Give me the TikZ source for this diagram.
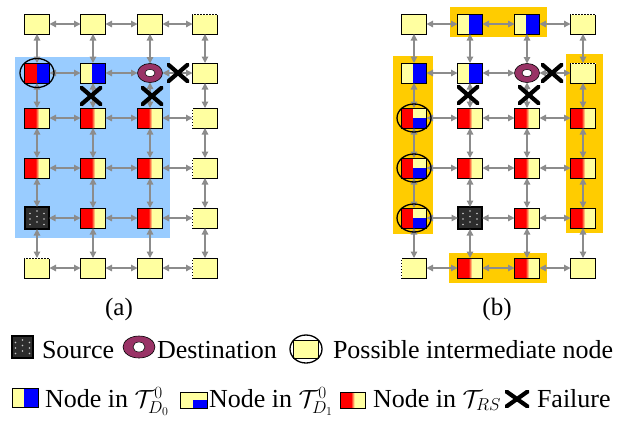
\documentclass[tikz,border=0pt]{standalone}
\usepackage{fontspec}
\setmainfont{Liberation Serif}
\usetikzlibrary{arrows.meta,shapes.geometric,calc}
\definecolor{ylw}{RGB}{255,255,160}
\definecolor{arrgray}{RGB}{140,140,140}
\definecolor{bgblue}{RGB}{153,204,255}
\definecolor{bgorange}{RGB}{255,204,0}
\definecolor{ringcol}{RGB}{153,51,102}
\definecolor{srccol}{RGB}{45,45,45}
\definecolor{dotcol}{RGB}{200,200,200}
\tikzset{
  box/.style={rectangle, draw=black, line width=0.9bp, minimum width=25bp, minimum height=20bp, inner sep=0pt, outer sep=0pt, fill=ylw},
  ry/.style={box, path picture={
    \coordinate (pA) at ($(path picture bounding box.south west)!0.44!(path picture bounding box.south east)$);
    \coordinate (pB) at ($(path picture bounding box.north west)!0.58!(path picture bounding box.north east)$);
    \fill[red] (path picture bounding box.north west) rectangle (pA);
    \shade[left color=red, right color=ylw] (pA) rectangle (pB);}},
  yb/.style={box, path picture={
    \coordinate (pA) at ($(path picture bounding box.south west)!0.46!(path picture bounding box.south east)$);
    \fill[blue] (pA) rectangle (path picture bounding box.north east);}},
  rb/.style={box, path picture={
    \coordinate (pA) at ($(path picture bounding box.south west)!0.5!(path picture bounding box.south east)$);
    \fill[red] (path picture bounding box.north west) rectangle (pA);
    \fill[blue] (pA) rectangle (path picture bounding box.north east);}},
  quart/.style={box, path picture={
    \coordinate (pA) at ($(path picture bounding box.south west)!0.46!(path picture bounding box.south east)$);
    \coordinate (pB) at ($(path picture bounding box.south east)!0.5!(path picture bounding box.north east)$);
    \fill[blue] (pA) rectangle (pB);}},
  rq/.style={box, path picture={
    \coordinate (pA) at ($(path picture bounding box.south west)!0.46!(path picture bounding box.south east)$);
    \coordinate (pB) at ($(path picture bounding box.south east)!0.5!(path picture bounding box.north east)$);
    \fill[red] (path picture bounding box.north west) rectangle (pA);
    \fill[blue] (pA) rectangle (pB);}},
  dest/.style={ellipse, draw=black, line width=0.6bp, fill=ringcol, minimum width=25bp, minimum height=19bp, inner sep=0pt, outer sep=0pt,
    path picture={\filldraw[fill=white, draw=black, line width=0.5bp] (path picture bounding box.center) ellipse [x radius=5bp, y radius=3.7bp];}},
  ldest/.style={dest, minimum width=32bp, minimum height=22bp,
    path picture={\filldraw[fill=white, draw=black, line width=0.5bp] (path picture bounding box.center) ellipse [x radius=6bp, y radius=5bp];}},
  src/.style={rectangle, draw=black, line width=1.3bp, fill=srccol, minimum width=24bp, minimum height=22bp, inner sep=0pt, outer sep=0pt,
    path picture={
      \foreach \i/\j in {-7/-6.5,0/-4,7/-6.5,-7/-1,7/-1,0/1.5,-7/4.5,7/4.5,0/7}{
        \fill[dotcol] ([shift={(\i bp,\j bp)}]path picture bounding box.center) circle (0.9bp);}}},
  fail/.style={rectangle, inner sep=0pt, minimum width=22bp, minimum height=19bp,
    path picture={
      \draw[line width=4.2bp] (path picture bounding box.south west) -- (path picture bounding box.north east);
      \draw[line width=4.2bp] (path picture bounding box.north west) -- (path picture bounding box.south east);}},
  conn/.style={draw=arrgray, line width=1.3bp, {Triangle[length=6.5bp,width=6.5bp]}-{Triangle[length=6.5bp,width=6.5bp]}},
  circmark/.style={draw=black, line width=1.3bp},
  dashedge/.style={draw=white, line width=1bp, dash pattern=on 1.5bp off 1.5bp},
  lbl/.style={inner sep=0pt, outer sep=0pt, font=\fontsize{26bp}{30bp}\selectfont},
}
\begin{document}
\begin{tikzpicture}[x=1bp,y=-1bp]
\useasboundingbox (0,0) rectangle (623,425);
% backgrounds
\fill[bgblue] (15,57) rectangle (170,238);
\fill[bgorange] (450,7) rectangle (547,37);
\fill[bgorange] (393,56) rectangle (433,234);
\fill[bgorange] (566,54) rectangle (603,233);
\fill[bgorange] (449,253) rectangle (547,283);
% ---------- panel (a) ----------
\node[box] (a11) at (37,24) {};
\node[box] (a12) at (93,24) {};
\node[box] (a13) at (150,24) {};
\node[box] (a14) at (205,24) {};
\node[rb]  (a21) at (37,73) {};
\node[yb]  (a22) at (93,73) {};
\node[dest] (a23) at (150,73) {};
\node[box] (a24) at (205,73) {};
\node[ry]  (a31) at (37,118) {};
\node[ry]  (a32) at (93,118) {};
\node[ry]  (a33) at (150,118) {};
\node[box] (a34) at (205,118) {};
\node[ry]  (a41) at (37,168) {};
\node[ry]  (a42) at (93,168) {};
\node[ry]  (a43) at (150,168) {};
\node[box] (a44) at (205,168) {};
\node[src] (a51) at (37,218) {};
\node[ry]  (a52) at (93,218) {};
\node[ry]  (a53) at (150,218) {};
\node[box] (a54) at (205,218) {};
\node[box] (a61) at (37,268) {};
\node[box] (a62) at (93,268) {};
\node[box] (a63) at (150,268) {};
\node[box] (a64) at (205,268) {};
% ---------- panel (b) ----------
\node[box] (b11) at (414,24) {};
\node[yb]  (b12) at (470,24) {};
\node[yb]  (b13) at (527,24) {};
\node[box] (b14) at (583,24) {};
\node[yb]  (b21) at (414,73) {};
\node[yb]  (b22) at (470,73) {};
\node[dest] (b23) at (527,73) {};
\node[box] (b24) at (583,73) {};
\node[rq]  (b31) at (414,118) {};
\node[ry]  (b32) at (470,118) {};
\node[ry]  (b33) at (527,118) {};
\node[ry]  (b34) at (583,118) {};
\node[rq]  (b41) at (414,168) {};
\node[ry]  (b42) at (470,168) {};
\node[ry]  (b43) at (527,168) {};
\node[ry]  (b44) at (583,168) {};
\node[rq]  (b51) at (414,218) {};
\node[src] (b52) at (470,218) {};
\node[ry]  (b53) at (527,218) {};
\node[ry]  (b54) at (583,218) {};
\node[box] (b61) at (414,268) {};
\node[ry]  (b62) at (470,268) {};
\node[ry]  (b63) at (527,268) {};
\node[box] (b64) at (583,268) {};
% dashed edges
\draw[dashedge] (a14.north west) -- (a14.north east);
\draw[dashedge] (a34.north west) -- (a34.south west);
\draw[dashedge] (a44.north west) -- (a44.south west);
\draw[dashedge] (a54.north west) -- (a54.south west);
\draw[dashedge] (a64.north west) -- (a64.south west);
\draw[dashedge] (a61.north west) -- (a61.north east);
\draw[dashedge] (b14.north west) -- (b14.north east);
\draw[dashedge] (b24.north west) -- (b24.north east);
\draw[dashedge] (b61.north west) -- (b61.south west);
% connectors
\foreach \p in {a,b}{
  \foreach \r in {1,...,6}{
    \foreach \c [evaluate=\c as \d using int(\c+1)] in {1,2,3}{
      \draw[conn] (\p\r\c) -- (\p\r\d);
    }
  }
  \foreach \r [evaluate=\r as \s using int(\r+1)] in {1,...,5}{
    \foreach \c in {1,...,4}{
      \draw[conn] (\p\r\c) -- (\p\s\c);
    }
  }
}
% circles
\draw[circmark] (a21) ellipse [x radius=17bp, y radius=14.5bp];
\draw[circmark] (b31) ellipse [x radius=17bp, y radius=14bp];
\draw[circmark] (b41) ellipse [x radius=17bp, y radius=14bp];
\draw[circmark] (b51) ellipse [x radius=17bp, y radius=14bp];
% failures
\node[fail] (fa1) at (178,73) {};
\node[fail] (fa2) at (91,96) {};
\node[fail] (fa3) at (152,96) {};
\node[fail] (fb1) at (552,73) {};
\node[fail] (fb2) at (468,95) {};
\node[fail] (fb3) at (529,95) {};
% sub-captions
\node[lbl, anchor=base, font=\fontsize{25bp}{30bp}\selectfont] (capa) at (119,315) {(a)};
\node[lbl, anchor=base, font=\fontsize{25bp}{30bp}\selectfont] (capb) at (497,315) {(b)};
% ---------- legend row 1 ----------
\node[src, minimum width=21bp, minimum height=22bp] (lsrc) at (22.5,347) {};
\node[lbl, anchor=base west] (tsrc) at (42,358) {Source};
\node[ldest] (ldst) at (139,347) {};
\node[lbl, anchor=base west] (tdst) at (157,358) {Destination};
\node[box, minimum width=25bp, minimum height=18bp] (lpos) at (306,349) {};
\draw[circmark] (lpos) ellipse [x radius=16bp, y radius=14bp];
\node[lbl, anchor=base west] (tpos) at (333,358) {Possible intermediate node};
% ---------- legend row 2 ----------
\node[yb, minimum width=26bp, minimum height=19bp] (lyb) at (25,397.5) {};
\node[lbl, anchor=base west] (tyb) at (45,407) {Node in $\mathcal{T}_{D_0}^{0}$};
\node[quart, minimum width=27bp, minimum height=16bp] (lq) at (194,400) {};
\node[lbl, anchor=base west] (tq) at (209,407) {Node in $\mathcal{T}_{D_1}^{0}$};
\node[ry, minimum width=25bp, minimum height=16bp] (lry) at (352.5,400) {};
\node[lbl, anchor=base west] (try) at (373,407) {Node in $\mathcal{T}_{RS}$};
\node[fail, minimum width=24bp, minimum height=17bp] (lfail) at (517,399) {};
\node[lbl, anchor=base west] (tfail) at (537,407) {Failure};
\end{tikzpicture}
\end{document}
